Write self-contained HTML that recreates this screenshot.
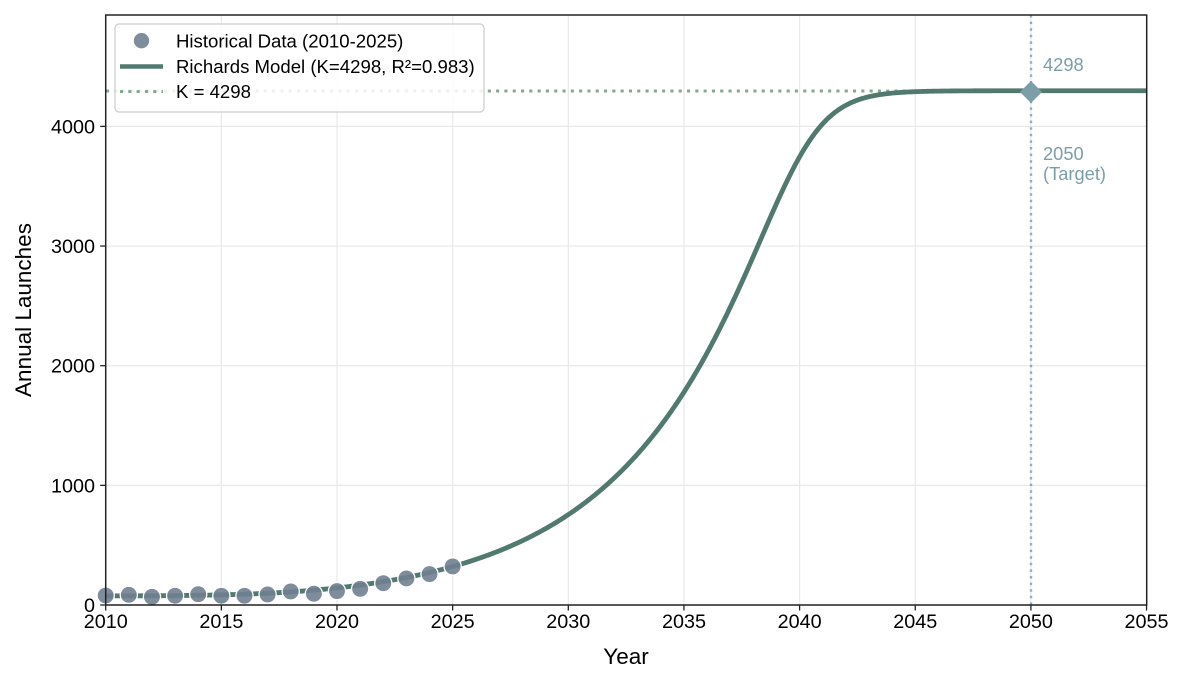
<!DOCTYPE html>
<html>
<head>
<meta charset="utf-8">
<style>
  html, body { margin:0; padding:0; background:#ffffff; }
  svg { display:block; }
  text { font-family: "Liberation Sans", Arial, sans-serif; }
</style>
</head>
<body>
<svg id="chart" width="1185" height="683" viewBox="0 0 1185 683" xmlns="http://www.w3.org/2000/svg">
  <rect x="0" y="0" width="1185" height="683" fill="#ffffff"/>
  <g id="grid" stroke="#e8e8e8" stroke-width="1.2"></g>
  <!-- K line -->
  <line x1="106" y1="91" x2="1146.5" y2="91" stroke="#84A98C" stroke-width="3" stroke-dasharray="3.1 5.2"/>
  <!-- 2050 vertical -->
  <line x1="1031" y1="15" x2="1031" y2="605" stroke="#7B9EA8" stroke-opacity="0.8" stroke-width="2.4" stroke-dasharray="2.5 4.1"/>
  <path id="curve" d="" fill="none" stroke="#52796F" stroke-width="4.8" stroke-linejoin="round" stroke-linecap="butt"/>
  <g id="markers"></g>
  <!-- diamond -->
  <polygon points="1031,81 1042,92 1031,103 1020,92" fill="#7B9EA8"/>
  <!-- spines -->
  <rect x="105.7" y="15" width="1041" height="590" fill="none" stroke="#222222" stroke-width="1.5"/>
  <g id="ticks" stroke="#222222" stroke-width="1.3"></g>
  <g id="ticklabels" font-size="19.8" fill="#000000"></g>
  <text x="626" y="664" font-size="22.5" text-anchor="middle" fill="#000">Year</text>
  <text transform="translate(31,310) rotate(-90)" font-size="22.5" text-anchor="middle" fill="#000">Annual Launches</text>
  <!-- annotations -->
  <text x="1043" y="71" font-size="18.3" fill="#7B9EA8">4298</text>
  <text x="1043" y="160" font-size="18.3" fill="#7B9EA8">2050</text>
  <text x="1043" y="180" font-size="18.3" fill="#7B9EA8">(Target)</text>
  <!-- legend -->
  <rect x="115" y="24" width="369" height="88" rx="4" ry="4" fill="#ffffff" fill-opacity="0.85" stroke="#cccccc" stroke-width="1.2"/>
  <circle cx="141.5" cy="40.7" r="8.3" fill="#708090" fill-opacity="0.9" stroke="#ffffff" stroke-width="1.3"/>
  <line x1="120" y1="66.5" x2="163" y2="66.5" stroke="#52796F" stroke-width="4.5"/>
  <line x1="120" y1="91.5" x2="163" y2="91.5" stroke="#84A98C" stroke-width="3" stroke-dasharray="3.1 5.2"/>
  <text x="176" y="47.3" font-size="18.6" fill="#000">Historical Data (2010-2025)</text>
  <text x="176" y="72.8" font-size="18.6" fill="#000">Richards Model (K=4298, R²=0.983)</text>
  <text x="176" y="98" font-size="18.6" fill="#000">K = 4298</text>
</svg>
<script>
(function(){
  var NS="http://www.w3.org/2000/svg";
  function X(t){ return 105.7 + (t-2010)*23.13; }
  function Y(v){ return 605 - v*0.11965; }
  var K=4298, nu=5.5;
  var A=Math.pow(320/K,-nu)-1;
  var r=-Math.log((Math.pow(755/K,-nu)-1)/A)/5;
  function f(t){
    var R=K*Math.pow(1+A*Math.exp(-r*(t-2025)),-1/nu);
    return Math.pow(R*R*R+75*75*75,1/3);
  }
  var d="";
  for(var i=0;i<=900;i++){
    var t=2010+i*45/900;
    d+=(i?"L":"M")+X(t).toFixed(2)+","+Y(f(t)).toFixed(2);
  }
  document.getElementById("curve").setAttribute("d",d);
  var grid=document.getElementById("grid");
  var ticks=document.getElementById("ticks");
  var tl=document.getElementById("ticklabels");
  function el(tag,attrs,parent,txt){
    var e=document.createElementNS(NS,tag);
    for(var k in attrs) e.setAttribute(k,attrs[k]);
    if(txt!==undefined) e.textContent=txt;
    parent.appendChild(e); return e;
  }
  for(var yr=2010; yr<=2055; yr+=5){
    var x=X(yr);
    el("line",{x1:x,y1:15,x2:x,y2:605},grid);
    el("line",{x1:x,y1:605,x2:x,y2:610.5},ticks);
    el("text",{x:x,y:628,"text-anchor":"middle"},tl,String(yr));
  }
  for(var v=0; v<=4000; v+=1000){
    var y=Y(v);
    el("line",{x1:105.7,y1:y,x2:1146.7,y2:y},grid);
    el("line",{x1:100.2,y1:y,x2:105.7,y2:y},ticks);
    el("text",{x:95,y:y+7,"text-anchor":"end"},tl,String(v));
  }
  var data=[79,85,68,77,90,77,77,88,113,94,116,135,182,222,258,322];
  var mk=document.getElementById("markers");
  for(var j=0;j<data.length;j++){
    el("circle",{cx:X(2010+j),cy:Y(data[j]),r:8.6,fill:"#708090","fill-opacity":"0.9",stroke:"#ffffff","stroke-width":"1.3"},mk);
  }
})();
</script>
</body>
</html>
